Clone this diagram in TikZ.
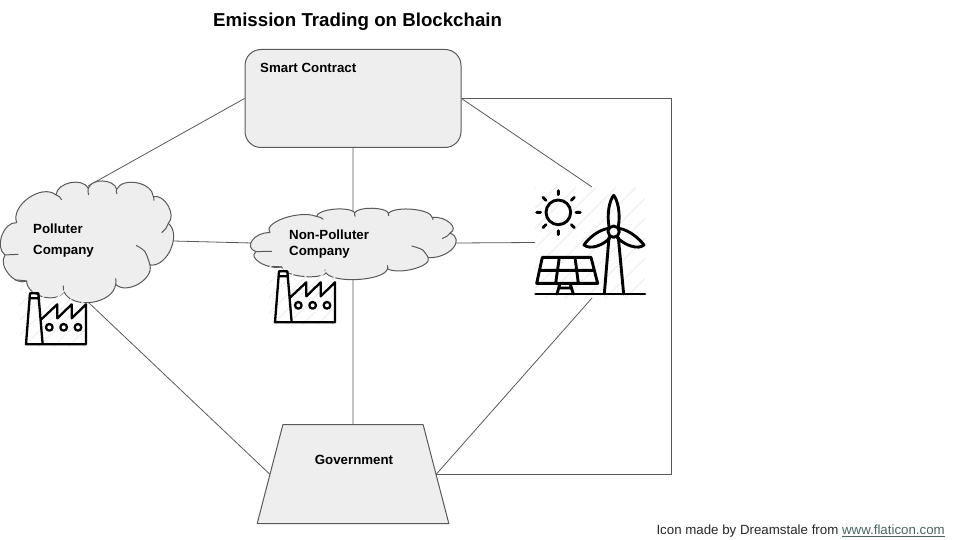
\documentclass[tikz,border=0pt]{standalone}
\usepackage{fontspec}
\setmainfont{Liberation Sans}
\usetikzlibrary{shapes.geometric,calc}
\definecolor{shapefill}{HTML}{EEEEEE}
\definecolor{edgecol}{HTML}{595959}
\definecolor{hatchcol}{HTML}{F1F1F1}
\definecolor{linkcol}{HTML}{4A6464}
\tikzset{
  edge/.style={draw=edgecol,line width=0.8pt},
  shapeline/.style={draw=edgecol,line width=1pt,fill=shapefill,line join=round},
  label/.style={font=\bfseries\fontsize{13.3}{15}\selectfont,inner sep=0pt,anchor=west,text=black},
  icon/.style={draw=black,line width=2.9pt,line join=round,line cap=round},
  hatch/.style={draw=hatchcol,line width=1.2pt},
}
\newcommand{\bump}[4]{.. controls ({#1+0.1*(#3-#1)+0.37*(#4-#2)},{#2+0.1*(#4-#2)-0.37*(#3-#1)}) and ({#3-0.1*(#3-#1)+0.37*(#4-#2)},{#4-0.1*(#4-#2)-0.37*(#3-#1)}) .. (#3,#4)}
% cloud in zoom units
\newcommand{\cloudshape}{%
  \path[shapeline] (50,158)
   \bump{50}{158}{168}{75}
   \bump{168}{75}{265}{55}
   \bump{265}{55}{350}{58}
   \bump{350}{58}{460}{80}
   \bump{460}{80}{505}{160}
   \bump{505}{160}{450}{285}
   \bump{450}{285}{347}{343}
   \bump{347}{343}{192}{365}
   \bump{192}{365}{80}{333}
   \bump{80}{333}{15}{255}
   \bump{15}{255}{50}{158} -- cycle;
  \draw[edgecol,line width=1pt]
   plot[smooth] coordinates {(168,75)(178,80)(185,90)}
   plot[smooth] coordinates {(265,55)(264,65)(266,75)}
   plot[smooth] coordinates {(350,58)(349,65)(351,72)}
   plot[smooth] coordinates {(460,80)(462,86)(462,92)}
   plot[smooth] coordinates {(505,160)(498,175)(485,188)}
   plot[smooth] coordinates {(408,226)(435,245)(450,285)}
   plot[smooth] coordinates {(347,343)(348,335)(347,325)}
   plot[smooth] coordinates {(192,365)(190,356)(190,347)}
   plot[smooth] coordinates {(80,333)(62,331)(45,330)}
   plot[smooth] coordinates {(15,255)(35,254)(55,253)};
}
\newcommand{\factoryshape}{%
  \begin{scope}
    \clip (60,350) rectangle (262,530);
    \foreach \d in {-200,-155,...,300} {\draw[hatch] (\d,530) -- (\d+180,350);}
  \end{scope}
  \draw[icon,line width=2.3pt]
   (90,370) -- (115,370) -- (128,523) -- (78,523) -- cycle
   (88,385) -- (117,385)
   (125,447) -- (172,403) -- (172,445) -- (215,403) -- (215,445) -- (258,403) -- (258,523) -- (128,523)
   (148,472) circle (10) (191,472) circle (10) (234,472) circle (10);
}
\begin{document}
\begin{tikzpicture}[x=1pt,y=-1pt]
\useasboundingbox (0,0) rectangle (960,540);
\fill[white] (0,0) rectangle (960,540);

\node[font=\bfseries\fontsize{18.7}{20}\selectfont,inner sep=0pt,anchor=west] (title) at (213,21.5) {Emission Trading on Blockchain};

% anchors
\coordinate (pollTop) at (88,186);
\coordinate (pollRight) at (173,241);
\coordinate (pollBottom) at (88,302);
\coordinate (nonLeft) at (252,243);
\coordinate (nonRight) at (456,243);
\coordinate (iconLeft) at (535,242.5);
\coordinate (iconTop) at (592,187);
\coordinate (iconBottom) at (592,298);

\node[shapeline,rounded corners=16pt,minimum width=216pt,minimum height=98pt,inner sep=0pt] (contract) at (353,98.5) {};
\node[shapeline,trapezium,trapezium stretches=true,trapezium left angle=79.6,trapezium right angle=79.6,minimum width=192pt,minimum height=99pt,inner sep=0pt] (gov) at (353,474) {\phantom{\rule{20pt}{20pt}}};

\coordinate (cornerA) at (671,98.5);
\coordinate (cornerB) at (671,474);

\draw[edge] (contract.west) -- (pollTop);
\draw[edge] (contract.east) -- (iconTop);
\draw[edge] (contract.east) -- (cornerA) -- (cornerB) -- (gov.east);
\draw[edge] (contract.south) -- (gov.north);
\draw[edge] (pollRight) -- (nonLeft);
\draw[edge] (nonRight) -- (iconLeft);
\draw[edge] (pollBottom) -- (gov.west);
\draw[edge] (iconBottom) -- (gov.east);

% clouds
\begin{scope}[x=0.3333pt,y=-0.3333pt,shift={(0,510)}]
  \cloudshape
\end{scope}
\begin{scope}[shift={(250,201.8)},x=0.396pt,y=-0.1955pt]
  \cloudshape
\end{scope}

% factories
\begin{scope}[shift={(0,170)},x=0.3333pt,y=-0.3333pt]
  \factoryshape
\end{scope}
\begin{scope}[shift={(249,148)},x=0.3333pt,y=-0.3333pt]
  \factoryshape
\end{scope}

% solar and wind
\begin{scope}[shift={(525,180)},x=0.3333pt,y=-0.3333pt]
  \begin{scope}
    \clip (30,22) rectangle (360,355);
    \foreach \d in {-300,-240,...,400} {\draw[hatch] (\d,355) -- (\d+333,22);}
  \end{scope}
  \draw[icon] (100,97) circle (37);
  \draw[icon]
    (100,32) -- (100,44) (100,152) -- (100,164) (35,97) -- (47,97) (153,97) -- (166,97)
    (54,52) -- (63,61) (148,52) -- (139,61) (54,143) -- (63,134) (148,143) -- (139,134);
  \draw[icon] (266,155) circle (17);
  \draw[icon] (252,140) .. controls (245,100) and (254,60) .. (266,46) .. controls (278,60) and (287,100) .. (280,140);
  \draw[icon] (250,145) .. controls (220,150) and (190,175) .. (177,195) .. controls (195,210) and (235,197) .. (256,172);
  \draw[icon] (282,145) .. controls (312,150) and (342,175) .. (357,195) .. controls (340,210) and (300,197) .. (276,172);
  \draw[icon] (252,172) -- (238,342) (280,172) -- (296,342);
  \draw[icon] (32,342) -- (360,342);
  \draw[icon] (52,232) -- (198,232) -- (218,310) -- (35,310) -- cycle
    (44,271) -- (208,271)
    (103,232) -- (92,310) (150,232) -- (160,310)
    (105,310) -- (96,342) (135,310) -- (145,342) (101,324) -- (140,324);
\end{scope}

% texts
\node[label] (contractText) at (260,68) {Smart Contract};
\node[label] (pollA) at (33,228.5) {Polluter};
\node[label] (pollB) at (33,251.5) {Company};
\node[label] (nonA) at (289,234.5) {Non-Polluter};
\node[label] (nonB) at (289,252.5) {Company};
\node[label,anchor=center] (govText) at (354,460) {Government};
\node[inner sep=0pt,anchor=east,font=\fontsize{13.3}{15}\selectfont,text={rgb,255:red,40;green,40;blue,40}] (credit) at (945,531.5) {Icon made by Dreamstale from \textcolor{linkcol}{\underline{www.flaticon.com}}};
\end{tikzpicture}
\end{document}
